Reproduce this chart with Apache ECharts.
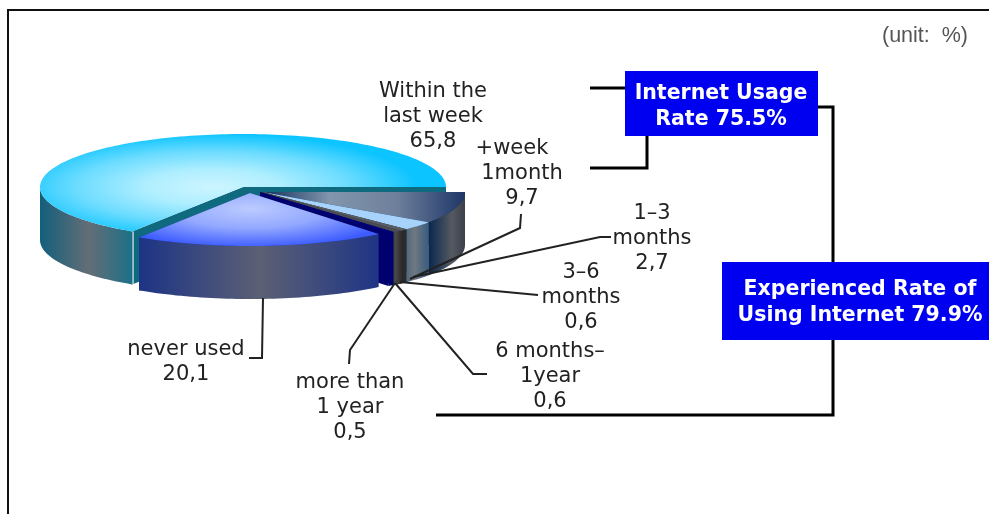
<!DOCTYPE html>
<html><head><meta charset="utf-8">
<style>html,body{margin:0;padding:0;background:#fff}#c{width:989px;height:514px}</style>
<script src="https://cdn.jsdelivr.net/npm/echarts@6/dist/echarts.min.js"></script>
</head><body><div id="c"></div>
<script>
// ---- data, in clockwise pie order ----
const categories = ['Within the\nlast week', '+week   \n1month', '1\u20133\nmonths', '3\u20136\nmonths', '6 months\u2013\n1year', 'more than\n1 year', 'never used'];
const values = [65.8, 9.7, 2.7, 0.6, 0.6, 0.5, 20.1];
const usageTitle = 'Internet Usage\nRate 75.5%';
const experiencedTitle = 'Experienced Rate of\nUsing Internet 79.9%';
const unitLabel = '(unit:  %)';

// ---- layout and styles ----
const FONT = 'DejaVu Sans';
const R = 203, RY = 53, DEPTH = 53;
const centers = [[243,187],[262,192],[262,192],[262,192],[262,192],[260,192],[250,193]];
const labelAt = [[433,91.5],[522,148.5],[652,213.5],[581,272.5],[550,351.5],[350,382.5],[186,349.5]];
const leaders = [
  null,
  [[410,279],[520,228],[521,214]],
  [[413,277],[600,237],[611,237]],
  [[400,282],[538,295]],
  [[395,283],[473,374],[487,374]],
  [[395,283],[350,350],[349,364]],
  [[263,298],[262,358],[249,358]]
];
const H = (x0,x1,stops) => new echarts.graphic.LinearGradient(x0,0,x1,0,stops.map((c,i)=>({offset:i/(stops.length-1),color:c})),true);
const Rad = (x,y,r,stops) => new echarts.graphic.RadialGradient(x,y,r,stops.map((c,i)=>({offset:i/(stops.length-1),color:c})),true);
const tops = [
  Rad(-30,0,205,['#cdf5ff','#aeeeff','#6cdcff','#0cc4ff']),
  H(0,203,['#0f2f5c','#8296ad','#6e7f9b','#1e3668']),
  '#a6d2fb','#585d66','#4a4d55','#00007a',
  Rad(0,60,150,['#bccbff','#93a8ff','#3d5cff'])
];
const walls = [
  H(41,137,['#155f7c','#646e76','#137089']),
  H(426,465,['#03204a','#2a3d58','#555a60','#3a3f4c']),
  H(402,427,['#3b6080','#70787f','#3e5f80']),
  H(393,402,['#555555','#2a2a2a']),
  H(393,402,['#555555','#2a2a2a']),
  '#00006e',
  H(143,378,['#1f3585','#5c6074','#1f3585'])
];
const faces = ['#0f6a80','#1d3350','#3b6080','#444444','#444444','#00006e','#1f3585'];

const total = values.reduce((a,b)=>a+b,0);
const toDeg = v => v/total*360;
const startDeg = -toDeg(values[0]);
const rad = d => d*Math.PI/180;
function arc(a0,a1,rx,ry,cx,cy){
  const pts=[], n=Math.max(2,Math.ceil((a1-a0)/1.5));
  for(let k=0;k<=n;k++){const a=rad(a0+(a1-a0)*k/n);pts.push([cx+rx*Math.cos(a),cy+ry*Math.sin(a)]);}
  return pts;
}
function renderItem(params, api){
  const i = params.dataIndex;
  let a0 = startDeg;
  for(let k=0;k<i;k++) a0 += toDeg(values[k]);
  const a1 = a0 + toDeg(api.value(0));
  const [cx,cy] = centers[i];
  const children = [];
  const quad = a => {
    const t = arc(a,a,R,RY,cx,cy)[0];
    return {type:'polygon',shape:{points:[[cx,cy],t,[t[0],t[1]+DEPTH],[cx,cy+DEPTH]]},style:{fill:faces[i]},silent:true};
  };
  children.push(quad(a0));
  children.push(quad(a1));
  // front rim: only the part of the arc in the lower half of the ellipse
  const n0 = a0<0 ? a0+360 : a0, n1 = n0+(a1-a0);
  const v0 = Math.max(n0,0), v1 = Math.min(n1,180);
  if(v1>v0){
    const up = arc(v0,v1,R,RY,cx,cy);
    const low = up.map(p=>[p[0],p[1]+DEPTH]).reverse();
    children.push({type:'polygon',shape:{points:up.concat(low)},style:{fill:walls[i]},silent:true});
    // thin pale seam where the largest slice's rim ends
    if(i===0) children.push({type:'line',shape:{x1:up[0][0]+1,y1:up[0][1],x2:up[0][0]+1,y2:up[0][1]+DEPTH},style:{stroke:'#dfe8ec',lineWidth:1.2},silent:true});
  }
  // top face, drawn as a circle sector squashed to the ellipse
  const rim = arc(a0,a1,R,R,0,0);
  children.push({type:'polygon',x:cx,y:cy,scaleY:RY/R,shape:{points:[[0,0]].concat(rim)},style:{fill:tops[i]},silent:true});
  return {type:'group',children};
}
function renderLabel(params, api){
  const i = params.dataIndex;
  const children = [];
  if(leaders[i]) children.push({type:'polyline',shape:{points:leaders[i]},style:{stroke:'#222',lineWidth:2,fill:null},silent:true});
  const text = categories[i]+'\n'+api.value(0).toFixed(1).replace('.',',');
  children.push({type:'text',style:{text,x:labelAt[i][0],y:labelAt[i][1]-12.5,align:'center',verticalAlign:'top',lineHeight:25,fontFamily:FONT,fontSize:21,fill:'#222'},silent:true});
  return {type:'group',children};
}
const seriesData = values.map((v,i)=>({value:v,name:categories[i]}));
const thick = pts => ({type:'polyline',shape:{points:pts},style:{stroke:'#000',lineWidth:3,fill:null},silent:true});
const box = (x,y,w,h,text,tx,ty) => ([
  {type:'rect',shape:{x,y,width:w,height:h},style:{fill:'#0000f0'},silent:true},
  {type:'text',style:{text,x:tx,y:ty,align:'center',verticalAlign:'middle',lineHeight:26,fontFamily:FONT,fontWeight:'bold',fontSize:20.5,fill:'#fff'},silent:true}
]);
const chart = echarts.init(document.getElementById('c'));
chart.setOption({
  animation:false,
  backgroundColor:'#fff',
  series:[
    {type:'custom',coordinateSystem:'none',renderItem,data:seriesData,z:2,silent:true},
    {type:'custom',coordinateSystem:'none',renderItem:renderLabel,data:seriesData,z:3,silent:true}
  ],
  graphic:[
    {type:'group',z:1,children:[
      {type:'polyline',shape:{points:[[8,514],[8,10],[989,10]]},style:{stroke:'#111',lineWidth:2,fill:null},silent:true},
      thick([[590,88],[625,88]]),
      thick([[647,136],[647,168],[590,168]]),
      thick([[818,107],[833,107],[833,262]]),
      thick([[833,340],[833,415],[436,415]]),
      ...box(625,71,193,65,usageTitle,721,106.5),
      ...box(722,262,267,78,experiencedTitle,860,303),
      {type:'text',style:{text:unitLabel,x:925,y:36,align:'center',verticalAlign:'middle',fontFamily:'Liberation Sans',fontSize:21.5,fill:'#555'},silent:true}
    ]}
  ]
});
</script></body></html>
